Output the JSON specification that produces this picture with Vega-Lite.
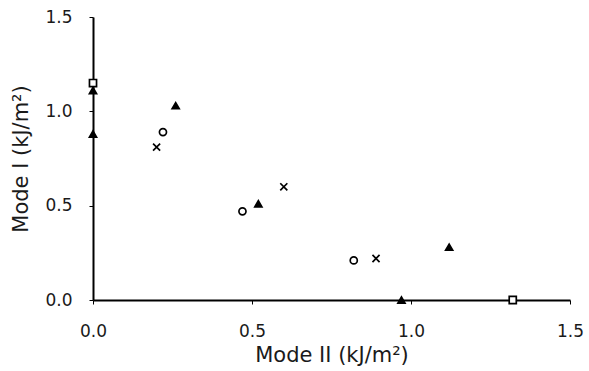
{
  "$schema": "https://vega.github.io/schema/vega-lite/v6.json",
  "width": 477,
  "height": 283,
  "autosize": {"type": "none"},
  "padding": {"left": 93, "top": 17, "right": 19, "bottom": 71},
  "background": "white",
  "config": {
    "view": {"stroke": null},
    "axis": {"grid": false, "domainColor": "black", "domainWidth": 2, "tickColor": "black", "tickWidth": 1, "labelFlush": false, "labelFont": "DejaVu Sans", "titleFont": "DejaVu Sans", "labelFontSize": 17, "titleFontSize": 21, "labelColor": "#1a1a1a", "titleColor": "#1a1a1a", "titleFontWeight": "normal"}
  },
  "data": {"values": [
    {"series": "A", "x": 0.0, "y": 1.15},
    {"series": "A", "x": 1.32, "y": 0.0},
    {"series": "B", "x": 0.0, "y": 1.11},
    {"series": "B", "x": 0.0, "y": 0.88},
    {"series": "B", "x": 0.26, "y": 1.03},
    {"series": "B", "x": 0.52, "y": 0.51},
    {"series": "B", "x": 1.12, "y": 0.28},
    {"series": "B", "x": 0.97, "y": 0.0},
    {"series": "C", "x": 0.22, "y": 0.89},
    {"series": "C", "x": 0.47, "y": 0.47},
    {"series": "C", "x": 0.82, "y": 0.21},
    {"series": "D", "x": 0.20, "y": 0.81},
    {"series": "D", "x": 0.60, "y": 0.60},
    {"series": "D", "x": 0.89, "y": 0.22}
  ]},
  "mark": {"type": "point", "size": 50, "strokeWidth": 1.7, "opacity": 1, "stroke": "black", "filled": false},
  "encoding": {
    "x": {"field": "x", "type": "quantitative", "scale": {"domain": [0, 1.5], "nice": false, "zero": true}, "axis": {"values": [0, 0.5, 1.0, 1.5], "format": ".1f", "tickSize": 4, "labelPadding": 19, "title": "Mode II (kJ/m²)", "titlePadding": 5}},
    "y": {"field": "y", "type": "quantitative", "scale": {"domain": [0, 1.5], "nice": false}, "axis": {"values": [0, 0.5, 1.0, 1.5], "format": ".1f", "tickSize": 4, "labelPadding": 17, "title": "Mode I (kJ/m²)", "titlePadding": 13}},
    "shape": {"field": "series", "type": "nominal", "legend": null, "scale": {"domain": ["A", "B", "C", "D"], "range": ["square", "triangle-up", "circle", "M-1,-1L1,1M1,-1L-1,1"]}},
    "fill": {"field": "series", "type": "nominal", "legend": null, "scale": {"domain": ["A", "B", "C", "D"], "range": ["white", "black", "white", "transparent"]}}
  }
}
